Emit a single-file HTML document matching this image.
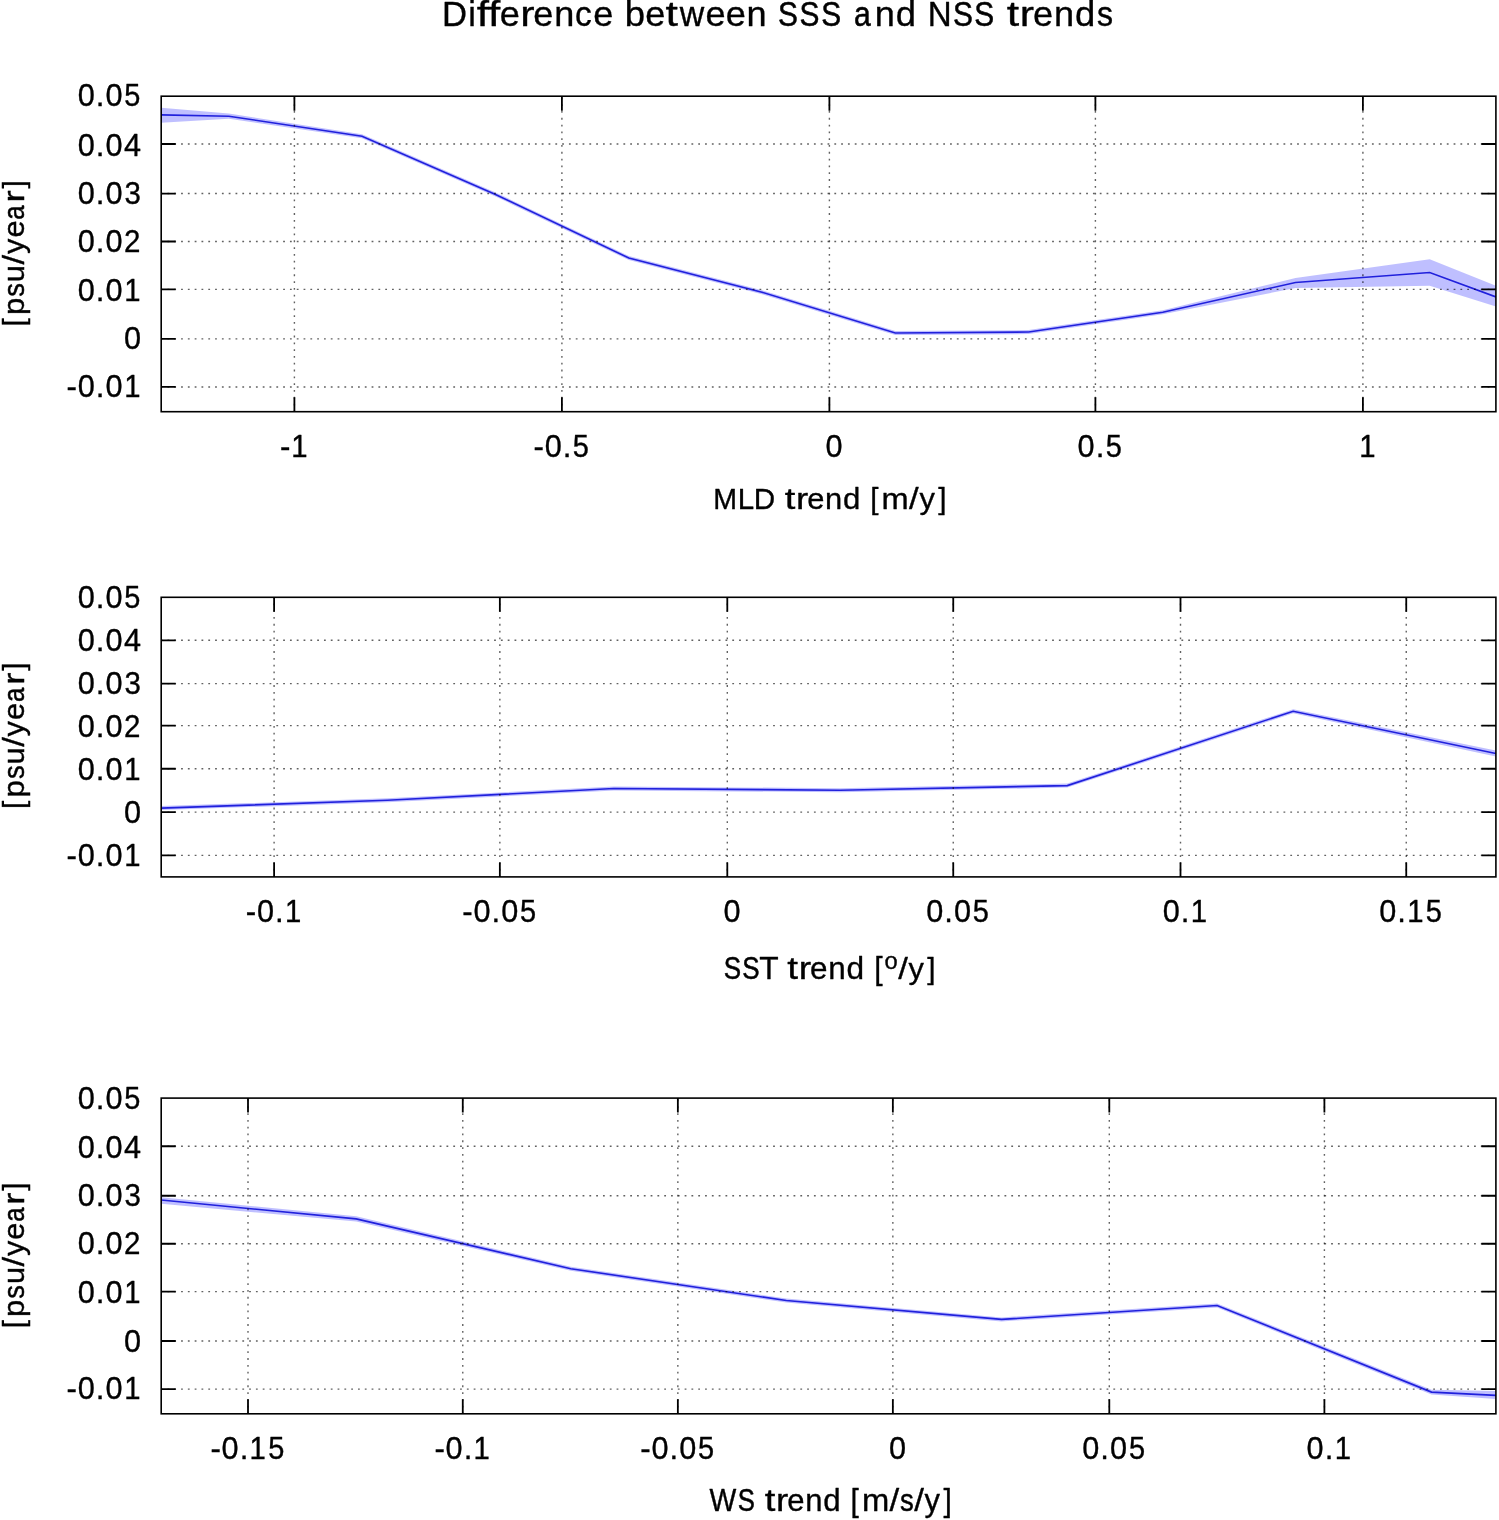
<!DOCTYPE html>
<html><head><meta charset="utf-8"><title>Difference between SSS and NSS trends</title>
<style>html,body{margin:0;padding:0;background:#fff;}svg{display:block;}</style></head>
<body>
<svg width="1499" height="1520" viewBox="0 0 1499 1520">
<rect width="100%" height="100%" fill="#fff"/>
<defs><clipPath id="c0"><rect x="161.2" y="96.2" width="1334.7" height="315.5"/></clipPath><clipPath id="c1"><rect x="161.2" y="597.3" width="1334.7" height="279.6"/></clipPath><clipPath id="c2"><rect x="161.2" y="1098.1" width="1334.7" height="315.70000000000005"/></clipPath></defs>
<g>
<rect width="100%" height="100%" fill="#fff"/>
<path d="M161.20 107.70 L228.80 113.60 L362.00 134.30 L495.00 192.20 L628.80 256.00 L762.00 290.20 L895.30 331.05 L1028.70 330.05 L1162.80 310.30 L1295.50 278.00 L1429.70 259.20 L1495.90 285.70 L1495.90 306.50 L1429.70 285.70 L1295.50 288.00 L1162.80 314.30 L1028.70 334.05 L895.30 335.05 L762.00 294.20 L628.80 260.00 L495.00 196.20 L362.00 138.30 L228.80 118.80 L161.20 122.70Z" fill="#0000ff" fill-opacity="0.25" clip-path="url(#c0)"/>
<path d="M161.20 114.90 L228.80 116.20 L362.00 136.30 L495.00 194.20 L628.80 258.00 L762.00 292.20 L895.30 333.05 L1028.70 332.05 L1162.80 312.30 L1295.50 282.50 L1429.70 272.50 L1495.90 296.90" stroke="#2020dc" stroke-width="1.6" fill="none" stroke-linejoin="miter" clip-path="url(#c0)"/>
<path d="M161.20 144.00H1495.90M161.20 193.55H1495.90M161.20 241.50H1495.90M161.20 289.40H1495.90M161.20 338.85H1495.90M161.20 386.95H1495.90" stroke="#000" stroke-opacity="0.62" stroke-width="1.4" stroke-dasharray="1.8 5.005" stroke-dashoffset="0.55" fill="none"/>
<path d="M294.40 411.70V96.20M561.90 411.70V96.20M829.40 411.70V96.20M1095.40 411.70V96.20M1362.90 411.70V96.20" stroke="#000" stroke-opacity="0.62" stroke-width="1.4" stroke-dasharray="1.8 5.005" stroke-dashoffset="0.55" fill="none"/>
<path d="M161.20 144.00h14.5M1495.90 144.00h-14.5M161.20 193.55h14.5M1495.90 193.55h-14.5M161.20 241.50h14.5M1495.90 241.50h-14.5M161.20 289.40h14.5M1495.90 289.40h-14.5M161.20 338.85h14.5M1495.90 338.85h-14.5M161.20 386.95h14.5M1495.90 386.95h-14.5M294.40 411.70v-14.5M294.40 96.20v14.5M561.90 411.70v-14.5M561.90 96.20v14.5M829.40 411.70v-14.5M829.40 96.20v14.5M1095.40 411.70v-14.5M1095.40 96.20v14.5M1362.90 411.70v-14.5M1362.90 96.20v14.5" stroke="#000" stroke-width="1.8" fill="none"/>
<rect x="161.2" y="96.2" width="1334.70" height="315.50" fill="none" stroke="#000" stroke-width="1.6"/>
<path d="M161.20 806.10 L387.30 798.30 L613.90 786.50 L840.20 788.20 L1067.30 783.60 L1293.20 709.30 L1495.90 750.50 L1495.90 756.50 L1293.20 713.30 L1067.30 787.60 L840.20 792.20 L613.90 790.50 L387.30 802.30 L161.20 810.10Z" fill="#0000ff" fill-opacity="0.25" clip-path="url(#c1)"/>
<path d="M161.20 808.10 L387.30 800.30 L613.90 788.50 L840.20 790.20 L1067.30 785.60 L1293.20 711.30 L1495.90 753.50" stroke="#2020dc" stroke-width="1.6" fill="none" stroke-linejoin="miter" clip-path="url(#c1)"/>
<path d="M161.20 640.30H1495.90M161.20 683.60H1495.90M161.20 725.60H1495.90M161.20 768.75H1495.90M161.20 812.10H1495.90M161.20 855.40H1495.90" stroke="#000" stroke-opacity="0.62" stroke-width="1.4" stroke-dasharray="1.8 5.005" stroke-dashoffset="0.55" fill="none"/>
<path d="M274.10 876.90V597.30M499.85 876.90V597.30M727.30 876.90V597.30M953.25 876.90V597.30M1180.50 876.90V597.30M1406.25 876.90V597.30" stroke="#000" stroke-opacity="0.62" stroke-width="1.4" stroke-dasharray="1.8 5.005" stroke-dashoffset="0.55" fill="none"/>
<path d="M161.20 640.30h14.5M1495.90 640.30h-14.5M161.20 683.60h14.5M1495.90 683.60h-14.5M161.20 725.60h14.5M1495.90 725.60h-14.5M161.20 768.75h14.5M1495.90 768.75h-14.5M161.20 812.10h14.5M1495.90 812.10h-14.5M161.20 855.40h14.5M1495.90 855.40h-14.5M274.10 876.90v-14.5M274.10 597.30v14.5M499.85 876.90v-14.5M499.85 597.30v14.5M727.30 876.90v-14.5M727.30 597.30v14.5M953.25 876.90v-14.5M953.25 597.30v14.5M1180.50 876.90v-14.5M1180.50 597.30v14.5M1406.25 876.90v-14.5M1406.25 597.30v14.5" stroke="#000" stroke-width="1.8" fill="none"/>
<rect x="161.2" y="597.3" width="1334.70" height="279.60" fill="none" stroke="#000" stroke-width="1.6"/>
<path d="M161.20 1197.20 L356.20 1216.20 L570.80 1266.70 L786.30 1298.50 L1001.60 1317.40 L1217.10 1303.50 L1431.50 1389.80 L1495.90 1391.10 L1495.90 1399.10 L1431.50 1394.40 L1217.10 1307.50 L1001.60 1321.40 L786.30 1302.50 L570.80 1270.70 L356.20 1221.60 L161.20 1203.80Z" fill="#0000ff" fill-opacity="0.25" clip-path="url(#c2)"/>
<path d="M161.20 1200.00 L356.20 1218.90 L570.80 1268.70 L786.30 1300.50 L1001.60 1319.40 L1217.10 1305.50 L1431.50 1392.10 L1495.90 1395.40" stroke="#2020dc" stroke-width="1.6" fill="none" stroke-linejoin="miter" clip-path="url(#c2)"/>
<path d="M161.20 1146.25H1495.90M161.20 1195.75H1495.90M161.20 1243.75H1495.90M161.20 1291.65H1495.90M161.20 1341.00H1495.90M161.20 1389.15H1495.90" stroke="#000" stroke-opacity="0.62" stroke-width="1.4" stroke-dasharray="1.8 5.005" stroke-dashoffset="0.55" fill="none"/>
<path d="M248.00 1413.80V1098.10M462.77 1413.80V1098.10M677.85 1413.80V1098.10M892.85 1413.80V1098.10M1109.30 1413.80V1098.10M1324.40 1413.80V1098.10" stroke="#000" stroke-opacity="0.62" stroke-width="1.4" stroke-dasharray="1.8 5.005" stroke-dashoffset="0.55" fill="none"/>
<path d="M161.20 1146.25h14.5M1495.90 1146.25h-14.5M161.20 1195.75h14.5M1495.90 1195.75h-14.5M161.20 1243.75h14.5M1495.90 1243.75h-14.5M161.20 1291.65h14.5M1495.90 1291.65h-14.5M161.20 1341.00h14.5M1495.90 1341.00h-14.5M161.20 1389.15h14.5M1495.90 1389.15h-14.5M248.00 1413.80v-14.5M248.00 1098.10v14.5M462.77 1413.80v-14.5M462.77 1098.10v14.5M677.85 1413.80v-14.5M677.85 1098.10v14.5M892.85 1413.80v-14.5M892.85 1098.10v14.5M1109.30 1413.80v-14.5M1109.30 1098.10v14.5M1324.40 1413.80v-14.5M1324.40 1098.10v14.5" stroke="#000" stroke-width="1.8" fill="none"/>
<rect x="161.2" y="1098.1" width="1334.70" height="315.70" fill="none" stroke="#000" stroke-width="1.6"/>
<g font-family="Liberation Sans, sans-serif" fill="#000" stroke="#000" stroke-width="0.35" stroke-linejoin="round" opacity="0.999" style="font-kerning:none;font-variant-ligatures:none"><text transform="translate(442.01 25.60) scale(0.9825 1)" font-size="35.30">D</text><text transform="translate(468.14 25.60) scale(0.9704 1)" font-size="35.30">i</text><text transform="translate(476.70 25.60) scale(1.2460 1)" font-size="35.30">f</text><text transform="translate(487.94 25.60) scale(1.2460 1)" font-size="35.30">f</text><text transform="translate(499.83 25.60) scale(1.0235 1)" font-size="35.30">e</text><text transform="translate(520.25 25.60) scale(1.2145 1)" font-size="35.30">r</text><text transform="translate(533.32 25.60) scale(1.0235 1)" font-size="35.30">e</text><text transform="translate(554.18 25.60) scale(1.0225 1)" font-size="35.30">n</text><text transform="translate(575.09 25.60) scale(0.9510 1)" font-size="35.30" stroke-width="0.38">c</text><text transform="translate(593.31 25.60) scale(1.0235 1)" font-size="35.30">e</text><text transform="translate(624.70 25.60) scale(1.0334 1)" font-size="35.30">b</text><text transform="translate(645.31 25.60) scale(1.0235 1)" font-size="35.30">e</text><text transform="translate(665.58 25.60) scale(1.2639 1)" font-size="35.30">t</text><text transform="translate(679.63 25.60) scale(0.9606 1)" font-size="35.30" stroke-width="0.37">w</text><text transform="translate(705.56 25.60) scale(1.0235 1)" font-size="35.30">e</text><text transform="translate(725.87 25.60) scale(1.0235 1)" font-size="35.30">e</text><text transform="translate(746.52 25.60) scale(1.0225 1)" font-size="35.30">n</text><text transform="translate(778.04 25.60) scale(0.8465 1)" font-size="35.30" stroke-width="0.55">S</text><text transform="translate(799.59 25.60) scale(0.8465 1)" font-size="35.30" stroke-width="0.55">S</text><text transform="translate(821.30 25.60) scale(0.8465 1)" font-size="35.30" stroke-width="0.55">S</text><text transform="translate(853.97 25.60) scale(0.8528 1)" font-size="35.30" stroke-width="0.54">a</text><text transform="translate(874.64 25.60) scale(1.0225 1)" font-size="35.30">n</text><text transform="translate(895.73 25.60) scale(1.0311 1)" font-size="35.30">d</text><text transform="translate(927.78 25.60) scale(0.9370 1)" font-size="35.30" stroke-width="0.40">N</text><text transform="translate(953.10 25.60) scale(0.8465 1)" font-size="35.30" stroke-width="0.55">S</text><text transform="translate(974.36 25.60) scale(0.8465 1)" font-size="35.30" stroke-width="0.55">S</text><text transform="translate(1006.69 25.60) scale(1.2639 1)" font-size="35.30">t</text><text transform="translate(1019.84 25.60) scale(1.2145 1)" font-size="35.30">r</text><text transform="translate(1033.03 25.60) scale(1.0235 1)" font-size="35.30">e</text><text transform="translate(1054.04 25.60) scale(1.0225 1)" font-size="35.30">n</text><text transform="translate(1074.97 25.60) scale(1.0311 1)" font-size="35.30">d</text><text transform="translate(1096.89 25.60) scale(0.9097 1)" font-size="35.30" stroke-width="0.45">s</text><text transform="translate(77.73 106.42) scale(1.0060 1)" font-size="30.50">0</text><text transform="translate(95.79 106.42) scale(1.0237 1)" font-size="30.50">.</text><text transform="translate(105.50 106.42) scale(1.0060 1)" font-size="30.50">0</text><text transform="translate(124.37 106.42) scale(0.9501 1)" font-size="30.50" stroke-width="0.38">5</text><text transform="translate(77.73 156.04) scale(1.0060 1)" font-size="30.50">0</text><text transform="translate(95.79 156.04) scale(1.0237 1)" font-size="30.50">.</text><text transform="translate(105.50 156.04) scale(1.0060 1)" font-size="30.50">0</text><text transform="translate(124.01 156.04) scale(1.0052 1)" font-size="30.50">4</text><text transform="translate(77.73 203.99) scale(1.0060 1)" font-size="30.50">0</text><text transform="translate(95.79 203.99) scale(1.0237 1)" font-size="30.50">.</text><text transform="translate(105.50 203.99) scale(1.0060 1)" font-size="30.50">0</text><text transform="translate(124.38 203.99) scale(0.9662 1)" font-size="30.50" stroke-width="0.36">3</text><text transform="translate(77.73 251.90) scale(1.0060 1)" font-size="30.50">0</text><text transform="translate(95.79 251.90) scale(1.0237 1)" font-size="30.50">.</text><text transform="translate(105.50 251.90) scale(1.0060 1)" font-size="30.50">0</text><text transform="translate(123.93 251.90) scale(0.9687 1)" font-size="30.50" stroke-width="0.35">2</text><text transform="translate(77.73 301.12) scale(1.0060 1)" font-size="30.50">0</text><text transform="translate(95.79 301.12) scale(1.0237 1)" font-size="30.50">.</text><text transform="translate(105.50 301.12) scale(1.0060 1)" font-size="30.50">0</text><text transform="translate(124.26 301.12) scale(0.9607 1)" font-size="30.50" stroke-width="0.36">1</text><text transform="translate(124.01 349.33) scale(1.0060 1)" font-size="30.50">0</text><text transform="translate(66.56 397.04) scale(1.0242 1)" font-size="30.50">-</text><text transform="translate(77.73 397.04) scale(1.0060 1)" font-size="30.50">0</text><text transform="translate(95.79 397.04) scale(1.0237 1)" font-size="30.50">.</text><text transform="translate(105.50 397.04) scale(1.0060 1)" font-size="30.50">0</text><text transform="translate(124.26 397.04) scale(0.9607 1)" font-size="30.50" stroke-width="0.36">1</text><text transform="translate(279.94 456.70) scale(1.0131 1)" font-size="30.83">-</text><text transform="translate(291.37 456.70) scale(0.9503 1)" font-size="30.83" stroke-width="0.38">1</text><text transform="translate(533.56 456.70) scale(1.0131 1)" font-size="30.83">-</text><text transform="translate(544.73 456.70) scale(0.9951 1)" font-size="30.83">0</text><text transform="translate(562.80 456.70) scale(1.0126 1)" font-size="30.83">.</text><text transform="translate(572.86 456.70) scale(0.9398 1)" font-size="30.83" stroke-width="0.40">5</text><text transform="translate(825.50 456.70) scale(0.9951 1)" font-size="30.83">0</text><text transform="translate(1077.61 456.70) scale(0.9951 1)" font-size="30.83">0</text><text transform="translate(1095.68 456.70) scale(1.0126 1)" font-size="30.83">.</text><text transform="translate(1105.74 456.70) scale(0.9398 1)" font-size="30.83" stroke-width="0.40">5</text><text transform="translate(1359.25 456.70) scale(0.9503 1)" font-size="30.83" stroke-width="0.38">1</text><text transform="translate(713.16 509.40) scale(0.9409 1)" font-size="30.36" stroke-width="0.40">M</text><text transform="translate(737.80 509.40) scale(0.9716 1)" font-size="30.36">L</text><text transform="translate(753.75 509.40) scale(0.9772 1)" font-size="30.36">D</text><text transform="translate(784.74 509.40) scale(1.2571 1)" font-size="30.36">t</text><text transform="translate(795.96 509.40) scale(1.2080 1)" font-size="30.36">r</text><text transform="translate(807.20 509.40) scale(1.0181 1)" font-size="30.36">e</text><text transform="translate(825.11 509.40) scale(1.0170 1)" font-size="30.36">n</text><text transform="translate(842.97 509.40) scale(1.0256 1)" font-size="30.36">d</text><text transform="translate(870.34 509.40) scale(0.9817 1)" font-size="30.36">[</text><text transform="translate(881.62 509.40) scale(1.0743 1)" font-size="30.36">m</text><text transform="translate(909.08 509.40) scale(1.1441 1)" font-size="30.36">/</text><text transform="translate(919.50 509.40) scale(1.0143 1)" font-size="30.36">y</text><text transform="translate(938.22 509.40) scale(0.9817 1)" font-size="30.36">]</text><g transform="translate(24 0) rotate(-90)"><text transform="translate(-326.41 0.00) scale(0.9817 1)" font-size="30.30">[</text><text transform="translate(-314.99 0.00) scale(1.0256 1)" font-size="30.30">p</text><text transform="translate(-296.68 0.00) scale(0.9048 1)" font-size="30.30" stroke-width="0.45">s</text><text transform="translate(-282.13 0.00) scale(1.0170 1)" font-size="30.30">u</text><text transform="translate(-264.43 0.00) scale(1.1441 1)" font-size="30.30">/</text><text transform="translate(-254.03 0.00) scale(1.0143 1)" font-size="30.30">y</text><text transform="translate(-237.60 0.00) scale(1.0181 1)" font-size="30.30">e</text><text transform="translate(-219.65 0.00) scale(0.8483 1)" font-size="30.30" stroke-width="0.54">a</text><text transform="translate(-202.57 0.00) scale(1.2080 1)" font-size="30.30">r</text><text transform="translate(-188.47 0.00) scale(0.9817 1)" font-size="30.30">]</text></g><text transform="translate(77.73 607.70) scale(1.0060 1)" font-size="30.50">0</text><text transform="translate(95.79 607.70) scale(1.0237 1)" font-size="30.50">.</text><text transform="translate(105.50 607.70) scale(1.0060 1)" font-size="30.50">0</text><text transform="translate(124.37 607.70) scale(0.9501 1)" font-size="30.50" stroke-width="0.38">5</text><text transform="translate(77.73 650.92) scale(1.0060 1)" font-size="30.50">0</text><text transform="translate(95.79 650.92) scale(1.0237 1)" font-size="30.50">.</text><text transform="translate(105.50 650.92) scale(1.0060 1)" font-size="30.50">0</text><text transform="translate(124.01 650.92) scale(1.0052 1)" font-size="30.50">4</text><text transform="translate(77.73 693.88) scale(1.0060 1)" font-size="30.50">0</text><text transform="translate(95.79 693.88) scale(1.0237 1)" font-size="30.50">.</text><text transform="translate(105.50 693.88) scale(1.0060 1)" font-size="30.50">0</text><text transform="translate(124.38 693.88) scale(0.9662 1)" font-size="30.50" stroke-width="0.36">3</text><text transform="translate(77.73 736.85) scale(1.0060 1)" font-size="30.50">0</text><text transform="translate(95.79 736.85) scale(1.0237 1)" font-size="30.50">.</text><text transform="translate(105.50 736.85) scale(1.0060 1)" font-size="30.50">0</text><text transform="translate(123.93 736.85) scale(0.9687 1)" font-size="30.50" stroke-width="0.35">2</text><text transform="translate(77.73 779.82) scale(1.0060 1)" font-size="30.50">0</text><text transform="translate(95.79 779.82) scale(1.0237 1)" font-size="30.50">.</text><text transform="translate(105.50 779.82) scale(1.0060 1)" font-size="30.50">0</text><text transform="translate(124.26 779.82) scale(0.9607 1)" font-size="30.50" stroke-width="0.36">1</text><text transform="translate(124.01 822.78) scale(1.0060 1)" font-size="30.50">0</text><text transform="translate(66.56 865.75) scale(1.0242 1)" font-size="30.50">-</text><text transform="translate(77.73 865.75) scale(1.0060 1)" font-size="30.50">0</text><text transform="translate(95.79 865.75) scale(1.0237 1)" font-size="30.50">.</text><text transform="translate(105.50 865.75) scale(1.0060 1)" font-size="30.50">0</text><text transform="translate(124.26 865.75) scale(0.9607 1)" font-size="30.50" stroke-width="0.36">1</text><text transform="translate(245.76 921.90) scale(1.0131 1)" font-size="30.83">-</text><text transform="translate(256.93 921.90) scale(0.9951 1)" font-size="30.83">0</text><text transform="translate(275.00 921.90) scale(1.0126 1)" font-size="30.83">.</text><text transform="translate(284.95 921.90) scale(0.9503 1)" font-size="30.83" stroke-width="0.38">1</text><text transform="translate(462.25 921.90) scale(1.0131 1)" font-size="30.83">-</text><text transform="translate(473.43 921.90) scale(0.9951 1)" font-size="30.83">0</text><text transform="translate(491.49 921.90) scale(1.0126 1)" font-size="30.83">.</text><text transform="translate(501.19 921.90) scale(0.9951 1)" font-size="30.83">0</text><text transform="translate(520.06 921.90) scale(0.9398 1)" font-size="30.83" stroke-width="0.40">5</text><text transform="translate(723.40 921.90) scale(0.9951 1)" font-size="30.83">0</text><text transform="translate(926.21 921.90) scale(0.9951 1)" font-size="30.83">0</text><text transform="translate(944.27 921.90) scale(1.0126 1)" font-size="30.83">.</text><text transform="translate(953.97 921.90) scale(0.9951 1)" font-size="30.83">0</text><text transform="translate(972.84 921.90) scale(0.9398 1)" font-size="30.83" stroke-width="0.40">5</text><text transform="translate(1162.71 921.90) scale(0.9951 1)" font-size="30.83">0</text><text transform="translate(1180.78 921.90) scale(1.0126 1)" font-size="30.83">.</text><text transform="translate(1190.73 921.90) scale(0.9503 1)" font-size="30.83" stroke-width="0.38">1</text><text transform="translate(1379.21 921.90) scale(0.9951 1)" font-size="30.83">0</text><text transform="translate(1397.27 921.90) scale(1.0126 1)" font-size="30.83">.</text><text transform="translate(1407.22 921.90) scale(0.9503 1)" font-size="30.83" stroke-width="0.38">1</text><text transform="translate(1425.84 921.90) scale(0.9398 1)" font-size="30.83" stroke-width="0.40">5</text><text transform="translate(723.70 979.20) scale(0.8420 1)" font-size="30.88" stroke-width="0.55">S</text><text transform="translate(742.20 979.20) scale(0.8420 1)" font-size="30.88" stroke-width="0.55">S</text><text transform="translate(759.19 979.20) scale(1.0288 1)" font-size="30.88">T</text><text transform="translate(787.24 979.20) scale(1.2571 1)" font-size="30.88">t</text><text transform="translate(798.65 979.20) scale(1.2080 1)" font-size="30.88">r</text><text transform="translate(810.09 979.20) scale(1.0181 1)" font-size="30.88">e</text><text transform="translate(828.31 979.20) scale(1.0170 1)" font-size="30.88">n</text><text transform="translate(846.48 979.20) scale(1.0256 1)" font-size="30.88">d</text><text transform="translate(874.32 979.20) scale(0.9817 1)" font-size="30.88">[</text><text transform="translate(884.60 968.60) scale(1.0037 1)" font-size="23.64">o</text><text transform="translate(898.20 979.20) scale(1.1441 1)" font-size="30.34">/</text><text transform="translate(908.61 979.20) scale(1.0143 1)" font-size="30.34">y</text><text transform="translate(927.33 979.20) scale(0.9817 1)" font-size="30.34">]</text><g transform="translate(24 0) rotate(-90)"><text transform="translate(-808.92 0.00) scale(0.9817 1)" font-size="30.36">[</text><text transform="translate(-797.47 0.00) scale(1.0256 1)" font-size="30.36">p</text><text transform="translate(-779.12 0.00) scale(0.9048 1)" font-size="30.36" stroke-width="0.45">s</text><text transform="translate(-764.54 0.00) scale(1.0170 1)" font-size="30.36">u</text><text transform="translate(-746.81 0.00) scale(1.1441 1)" font-size="30.36">/</text><text transform="translate(-736.38 0.00) scale(1.0143 1)" font-size="30.36">y</text><text transform="translate(-719.92 0.00) scale(1.0181 1)" font-size="30.36">e</text><text transform="translate(-701.93 0.00) scale(0.8483 1)" font-size="30.36" stroke-width="0.54">a</text><text transform="translate(-684.82 0.00) scale(1.2080 1)" font-size="30.36">r</text><text transform="translate(-670.68 0.00) scale(0.9817 1)" font-size="30.36">]</text></g><text transform="translate(77.73 1108.52) scale(1.0060 1)" font-size="30.50">0</text><text transform="translate(95.79 1108.52) scale(1.0237 1)" font-size="30.50">.</text><text transform="translate(105.50 1108.52) scale(1.0060 1)" font-size="30.50">0</text><text transform="translate(124.37 1108.52) scale(0.9501 1)" font-size="30.50" stroke-width="0.38">5</text><text transform="translate(77.73 1158.16) scale(1.0060 1)" font-size="30.50">0</text><text transform="translate(95.79 1158.16) scale(1.0237 1)" font-size="30.50">.</text><text transform="translate(105.50 1158.16) scale(1.0060 1)" font-size="30.50">0</text><text transform="translate(124.01 1158.16) scale(1.0052 1)" font-size="30.50">4</text><text transform="translate(77.73 1206.13) scale(1.0060 1)" font-size="30.50">0</text><text transform="translate(95.79 1206.13) scale(1.0237 1)" font-size="30.50">.</text><text transform="translate(105.50 1206.13) scale(1.0060 1)" font-size="30.50">0</text><text transform="translate(124.38 1206.13) scale(0.9662 1)" font-size="30.50" stroke-width="0.36">3</text><text transform="translate(77.73 1254.07) scale(1.0060 1)" font-size="30.50">0</text><text transform="translate(95.79 1254.07) scale(1.0237 1)" font-size="30.50">.</text><text transform="translate(105.50 1254.07) scale(1.0060 1)" font-size="30.50">0</text><text transform="translate(123.93 1254.07) scale(0.9687 1)" font-size="30.50" stroke-width="0.35">2</text><text transform="translate(77.73 1303.31) scale(1.0060 1)" font-size="30.50">0</text><text transform="translate(95.79 1303.31) scale(1.0237 1)" font-size="30.50">.</text><text transform="translate(105.50 1303.31) scale(1.0060 1)" font-size="30.50">0</text><text transform="translate(124.26 1303.31) scale(0.9607 1)" font-size="30.50" stroke-width="0.36">1</text><text transform="translate(124.01 1351.55) scale(1.0060 1)" font-size="30.50">0</text><text transform="translate(66.56 1399.29) scale(1.0242 1)" font-size="30.50">-</text><text transform="translate(77.73 1399.29) scale(1.0060 1)" font-size="30.50">0</text><text transform="translate(95.79 1399.29) scale(1.0237 1)" font-size="30.50">.</text><text transform="translate(105.50 1399.29) scale(1.0060 1)" font-size="30.50">0</text><text transform="translate(124.26 1399.29) scale(0.9607 1)" font-size="30.50" stroke-width="0.36">1</text><text transform="translate(210.40 1458.80) scale(1.0131 1)" font-size="30.83">-</text><text transform="translate(221.58 1458.80) scale(0.9951 1)" font-size="30.83">0</text><text transform="translate(239.64 1458.80) scale(1.0126 1)" font-size="30.83">.</text><text transform="translate(249.59 1458.80) scale(0.9503 1)" font-size="30.83" stroke-width="0.38">1</text><text transform="translate(268.21 1458.80) scale(0.9398 1)" font-size="30.83" stroke-width="0.40">5</text><text transform="translate(434.43 1458.80) scale(1.0131 1)" font-size="30.83">-</text><text transform="translate(445.60 1458.80) scale(0.9951 1)" font-size="30.83">0</text><text transform="translate(463.67 1458.80) scale(1.0126 1)" font-size="30.83">.</text><text transform="translate(473.62 1458.80) scale(0.9503 1)" font-size="30.83" stroke-width="0.38">1</text><text transform="translate(640.25 1458.80) scale(1.0131 1)" font-size="30.83">-</text><text transform="translate(651.43 1458.80) scale(0.9951 1)" font-size="30.83">0</text><text transform="translate(669.49 1458.80) scale(1.0126 1)" font-size="30.83">.</text><text transform="translate(679.19 1458.80) scale(0.9951 1)" font-size="30.83">0</text><text transform="translate(698.06 1458.80) scale(0.9398 1)" font-size="30.83" stroke-width="0.40">5</text><text transform="translate(888.95 1458.80) scale(0.9951 1)" font-size="30.83">0</text><text transform="translate(1082.26 1458.80) scale(0.9951 1)" font-size="30.83">0</text><text transform="translate(1100.32 1458.80) scale(1.0126 1)" font-size="30.83">.</text><text transform="translate(1110.02 1458.80) scale(0.9951 1)" font-size="30.83">0</text><text transform="translate(1128.89 1458.80) scale(0.9398 1)" font-size="30.83" stroke-width="0.40">5</text><text transform="translate(1306.61 1458.80) scale(0.9951 1)" font-size="30.83">0</text><text transform="translate(1324.68 1458.80) scale(1.0126 1)" font-size="30.83">.</text><text transform="translate(1334.63 1458.80) scale(0.9503 1)" font-size="30.83" stroke-width="0.38">1</text><text transform="translate(709.46 1511.00) scale(0.9316 1)" font-size="30.47" stroke-width="0.41">W</text><text transform="translate(737.80 1511.00) scale(0.8420 1)" font-size="30.47" stroke-width="0.55">S</text><text transform="translate(764.68 1511.00) scale(1.2571 1)" font-size="30.47">t</text><text transform="translate(775.94 1511.00) scale(1.2080 1)" font-size="30.47">r</text><text transform="translate(787.22 1511.00) scale(1.0181 1)" font-size="30.47">e</text><text transform="translate(805.21 1511.00) scale(1.0170 1)" font-size="30.47">n</text><text transform="translate(823.13 1511.00) scale(1.0256 1)" font-size="30.47">d</text><text transform="translate(850.61 1511.00) scale(0.9817 1)" font-size="30.47">[</text><text transform="translate(861.93 1511.00) scale(1.0743 1)" font-size="30.47">m</text><text transform="translate(889.49 1511.00) scale(1.1441 1)" font-size="30.47">/</text><text transform="translate(899.96 1511.00) scale(0.9048 1)" font-size="30.47" stroke-width="0.45">s</text><text transform="translate(914.16 1511.00) scale(1.1441 1)" font-size="30.47">/</text><text transform="translate(924.62 1511.00) scale(1.0143 1)" font-size="30.47">y</text><text transform="translate(943.42 1511.00) scale(0.9817 1)" font-size="30.47">]</text><g transform="translate(24 0) rotate(-90)"><text transform="translate(-1328.31 0.00) scale(0.9817 1)" font-size="30.23">[</text><text transform="translate(-1316.91 0.00) scale(1.0256 1)" font-size="30.23">p</text><text transform="translate(-1298.63 0.00) scale(0.9048 1)" font-size="30.23" stroke-width="0.45">s</text><text transform="translate(-1284.12 0.00) scale(1.0170 1)" font-size="30.23">u</text><text transform="translate(-1266.46 0.00) scale(1.1441 1)" font-size="30.23">/</text><text transform="translate(-1256.08 0.00) scale(1.0143 1)" font-size="30.23">y</text><text transform="translate(-1239.68 0.00) scale(1.0181 1)" font-size="30.23">e</text><text transform="translate(-1221.77 0.00) scale(0.8483 1)" font-size="30.23" stroke-width="0.54">a</text><text transform="translate(-1204.73 0.00) scale(1.2080 1)" font-size="30.23">r</text><text transform="translate(-1190.66 0.00) scale(0.9817 1)" font-size="30.23">]</text></g></g>
</g>
</svg>
</body></html>
